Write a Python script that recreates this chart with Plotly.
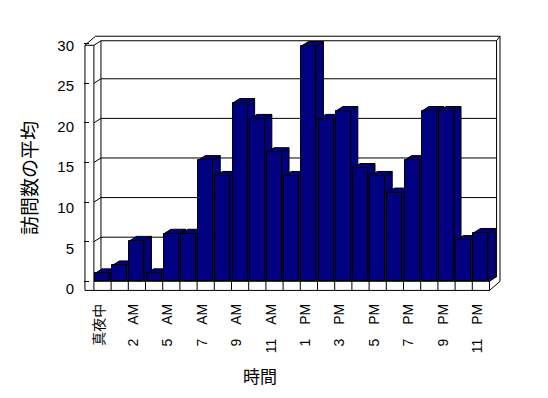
import plotly.graph_objects as go

# ---- data ----
hours = ["真夜中", "1 AM", "2 AM", "3 AM", "5 AM", "6 AM", "7 AM", "8 AM", "9 AM",
         "10 AM", "11 AM", "12 PM", "1 PM", "2 PM", "3 PM", "4 PM", "5 PM", "6 PM",
         "7 PM", "8 PM", "9 PM", "10 PM", "11 PM"]
avg_visits = [1.0, 2.0, 5.1, 1.0, 6.0, 6.0, 15.3, 13.3, 22.5, 20.5, 16.3, 13.3,
              29.7, 20.5, 21.5, 14.3, 13.3, 11.2, 15.3, 21.5, 21.5, 5.2, 6.1]
y_ticks = [0, 5, 10, 15, 20, 25, 30]
x_title = "時間"
y_title = "訪問数の平均"

# ---- geometry / style constants ----
NAVY = "#000080"
BAR_W = 0.87
DX, DY = 0.41, 0.57       # depth offset (data units)
WX, WY = 0.20, 0.57       # back wall thickness
XL = -1.02                # outer left edge of left wall
FB = 1.15                 # floor slab thickness
TOP = 29.8                # wall top
n = len(hours)
XF0, XF1 = -0.5, n - 0.5  # floor front edges
X_RANGE = [-1.076, 23.227]
Y_RANGE = [-1.477, 31.35]
Y3_RANGE = [-0.49, 31.52]
LABEL_SHIFT = -0.2
FONT = "Liberation Sans, Arial, Noto Sans CJK JP"

idx = list(range(n))
fig = go.Figure()

# ---- frame lines (walls, floor) ----
shapes = []
def seg(x0, y0, x1, y1):
    shapes.append(dict(type="line", xref="x", yref="y", x0=x0, y0=y0, x1=x1, y1=y1,
                       line=dict(color="black", width=1), layer="below"))

bx0, bx1 = XF0 + DX, XF1 + DX                  # back wall inner x
ox1 = XF1 + DX + WX                             # outer right
otop = TOP + DY + WY                            # outer top
# left wall front face
seg(XL, -FB, XL, TOP)
seg(XF0, 0, XF0, TOP)
seg(XL, TOP, XF0, TOP)
seg(XL, TOP, XL + DX + WX, otop)
seg(XF0, TOP, bx0, TOP + DY)
# back wall
seg(XL + DX + WX, otop, ox1, otop)
seg(bx0, TOP + DY, bx1, TOP + DY)
seg(bx0, DY, bx0, TOP + DY)
seg(bx1, DY, bx1, TOP + DY)
seg(bx1, TOP + DY, ox1, otop)
seg(ox1, otop, ox1, -FB + DY + WY)
# floor
seg(XF0, 0, XF1, 0)
seg(XL, -FB, XF1, -FB)
seg(XF1, 0, XF1, -FB)
seg(XF1, -FB, ox1, -FB + DY + WY)
seg(XF1, 0, bx1, DY)
seg(XF0, 0, bx0, DY)
seg(bx0, DY, bx1, DY)
# gridlines on back wall + left wall inner face
for v in y_ticks[1:-1]:
    seg(bx0, v + DY, bx1, v + DY)
    seg(XF0, v, bx0, v + DY)
# category boundary ticks on floor front
for k in range(n + 1):
    seg(XF0 + k, 0, XF0 + k, -FB)

# ---- bar side + top faces (drawn in order, under the fronts) ----
for i, v in zip(idx, avg_visits):
    r = i + BAR_W / 2
    l = i - BAR_W / 2
    fig.add_trace(go.Scatter(
        x=[r, r + DX, r + DX, r, r], y=[0, DY, v + DY, v, 0],
        mode="lines", fill="toself", fillcolor=NAVY,
        line=dict(color="black", width=1), hoverinfo="skip", showlegend=False))
    fig.add_trace(go.Scatter(
        x=[l, r, r + DX, l + DX, l], y=[v, v, v + DY, v + DY, v],
        mode="lines", fill="toself", fillcolor=NAVY,
        line=dict(color="black", width=1), hoverinfo="skip", showlegend=False))

# ---- bar front faces ----
fig.add_trace(go.Bar(x=idx, y=avg_visits, width=BAR_W, xaxis="x2", yaxis="y2",
                     marker=dict(color=NAVY, line=dict(color="black", width=1)),
                     hovertext=hours, showlegend=False))

# invisible trace to carry the label axis
fig.add_trace(go.Scatter(x=[0], y=[0], xaxis="x", yaxis="y3", mode="markers",
                         marker=dict(opacity=0), hoverinfo="skip", showlegend=False))

tick_pos = [i + LABEL_SHIFT for i in idx[::2]]
tick_txt = [h.replace(" ", "\u3000") for h in hours[::2]]

fig.update_layout(
    width=548, height=398,
    margin=dict(l=84, r=46, t=33, b=105, pad=0),
    paper_bgcolor="white", plot_bgcolor="white",
    font=dict(family=FONT, color="black", size=14),
    shapes=shapes,
    bargap=0,
    xaxis=dict(range=X_RANGE, showgrid=False, zeroline=False, showline=False,
               tickmode="array", tickvals=tick_pos, ticktext=tick_txt,
               tickangle=-90, ticks="", ticklabelstandoff=7,
               tickfont=dict(size=14, family=FONT, color="black")),
    yaxis=dict(range=Y_RANGE, showgrid=False, zeroline=False, showline=False,
               tickmode="array", tickvals=y_ticks, ticks="inside", ticklen=5,
               tickcolor="black", showticklabels=False),
    xaxis2=dict(range=X_RANGE, overlaying="x", visible=False),
    yaxis2=dict(range=Y_RANGE, overlaying="y", visible=False),
    yaxis3=dict(range=Y3_RANGE, overlaying="y", anchor="free", position=0,
                side="left", showgrid=False, zeroline=False, showline=False,
                tickmode="array", tickvals=y_ticks, ticks="",
                ticklabelstandoff=10, tickfont=dict(size=15, family=FONT, color="black")),
    annotations=[
        dict(text=y_title, xref="paper", yref="paper", x=-0.134, y=0.442,
             xanchor="center", yanchor="middle", textangle=-90, showarrow=False,
             font=dict(size=19, family="Noto Sans CJK JP")),
        dict(text=x_title, xref="paper", yref="paper", x=0.421, y=-0.319,
             xanchor="center", yanchor="middle", showarrow=False,
             font=dict(size=17, family="Noto Sans CJK JP")),
    ],
)

fig.write_html("out.html")
